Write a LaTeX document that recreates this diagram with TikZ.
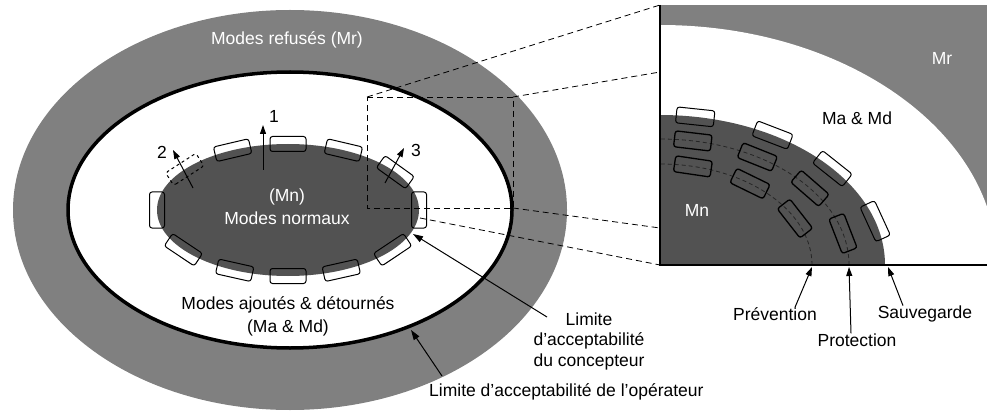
\documentclass[tikz,border=0pt]{standalone}
\usepackage{fontspec}
\setmainfont{Liberation Sans}
\usetikzlibrary{arrows.meta,calc}
\begin{document}
\begin{tikzpicture}[x=1pt,y=1pt,
  lab/.style={font=\fontsize{17.5}{20}\selectfont, inner sep=0pt, align=center},
  wlab/.style={lab, text=white},
  modebox/.style={draw=black, line width=1pt, rounded corners=2.5pt, minimum width=36pt, minimum height=15pt, inner sep=0pt},
  darkbox/.style={modebox, line width=1.3pt},
  proj/.style={line width=0.8pt, dash pattern=on 6pt off 4pt},
  arr/.style={line width=1pt, -{Triangle[length=9pt,width=6pt]}},
  ringfill/.style={fill=black!50},
  mnfill/.style={fill=black!68},
]
\useasboundingbox (0,0) rectangle (987,-414);
% ---------------- main picture ----------------
\coordinate (ctr) at (290,-210);
\coordinate (mn) at (288,-210);
\fill[ringfill] (ctr) ellipse[x radius=277, y radius=200];
\filldraw[fill=white, draw=black, line width=3.5pt] (ctr) ellipse[x radius=222, y radius=138];
\fill[mnfill] (mn) ellipse[x radius=131, y radius=66];
% mode boxes around Mn
\foreach \t [count=\i] in {90,65,115,35,180,0,217,246,270,294,323}
  \node[modebox, rotate={atan2(66*cos(\t),-131*sin(\t))}] (b\i) at ($(mn)+(\t:131 and 66)$) {};
\node[modebox, dashed, rotate={atan2(66*cos(142),-131*sin(142))}] (b12) at ($(mn)+(142:131 and 66)$) {};
% arrows 1 2 3
\coordinate (a1s) at (263,-170); \coordinate (a1e) at (263,-125);
\coordinate (a2s) at (193,-188); \coordinate (a2e) at (173,-150);
\coordinate (a3s) at (385,-183); \coordinate (a3e) at (404,-148);
\draw[arr] (a1s) -- (a1e);
\draw[arr] (a2s) -- (a2e);
\draw[arr] (a3s) -- (a3e);
\node[lab] (n1) at (274,-116) {1};
\node[lab] (n2) at (162,-152) {2};
\node[lab] (n3) at (416,-150) {3};
% labels
\node[wlab] (mr) at (287,-40) {Modes refusés (Mr)};
\node[wlab] (mn1) at (287,-197) {(Mn)};
\node[wlab] (mn2) at (287,-218) {Modes normaux};
\node[lab] (ma1) at (288,-305) {Modes ajoutés \& détournés};
\node[lab] (ma2) at (288,-328) {(Ma \& Md)};
\node[lab, anchor=west] (lop) at (429,-392) {Limite d’acceptabilité de l’opérateur};
\node[lab, font=\fontsize{17.5}{20.5}\selectfont] (lco) at (589,-341) {Limite\\d’acceptabilité\\du concepteur};
\coordinate (lcot) at (547,-317); \coordinate (lcoh) at (413,-234);
\coordinate (lopt) at (442,-376); \coordinate (loph) at (411,-330);
\draw[arr, -{Triangle[length=10pt,width=6.5pt]}] (lcot) -- (lcoh);
\draw[arr, -{Triangle[length=10pt,width=6.5pt]}] (lopt) -- (loph);
% ---------------- projection lines ----------------
\coordinate (r1) at (367,-97); \coordinate (r2) at (513,-97);
\coordinate (r3) at (513,-208); \coordinate (r4) at (367,-208);
\coordinate (s4) at (420,-218);
\coordinate (p1) at (660,-5); \coordinate (p2) at (660,-72);
\coordinate (p3) at (660,-228); \coordinate (p4) at (660,-265);
\draw[proj] (r1) -- (r2) -- (r3) -- (r4) -- cycle;
\draw[proj] (r1) -- (p1);
\draw[proj] (r2) -- (p2);
\draw[proj] (r3) -- (p3);
\draw[proj] (s4) -- (p4);
% ---------------- zoom panel ----------------
\coordinate (pc) at (660,-265);
\begin{scope}
  \clip (660,-5) rectangle (987,-265);
  \fill[ringfill] (660,-5) rectangle (987,-265);
  \fill[white] (pc) ellipse[x radius=337, y radius=240];
  \fill[mnfill] (pc) ellipse[x radius=225, y radius=150];
  \draw[black!85, line width=0.8pt, dash pattern=on 4pt off 3pt] (pc) ellipse[x radius=189, y radius=126];
  \draw[black!85, line width=0.8pt, dash pattern=on 4pt off 3pt] (pc) ellipse[x radius=152, y radius=101];
\end{scope}
\foreach \t [count=\i] in {81,60,40,17}
  \node[modebox, minimum height=16pt, minimum width=38pt, rotate={atan2(150*cos(\t),-225*sin(\t))}] (sa\i) at ($(pc)+(\t:225 and 150)$) {};
\foreach \t [count=\i] in {80,59,37.5,14.5}
  \node[darkbox, minimum height=16pt, minimum width=37pt, rotate={atan2(126*cos(\t),-189*sin(\t))}] (pt\i) at ($(pc)+(\t:189 and 126)$) {};
\foreach \t [count=\i] in {77.5,53.7,27.4}
  \node[darkbox, minimum height=16pt, minimum width=37pt, rotate={atan2(101*cos(\t),-152*sin(\t))}] (pv\i) at ($(pc)+(\t:152 and 101)$) {};
\coordinate (pend) at (987,-265);
\draw[line width=1.3pt] (p1) -- (p4) -- (pend);
\node[lab] (pma) at (857,-118) {Ma \& Md};
\node[wlab] (pmr) at (942,-58) {Mr};
\node[wlab] (pmn) at (697,-210) {Mn};
\node[lab] (prev) at (775,-314) {Prévention};
\node[lab] (prot) at (857,-340) {Protection};
\node[lab] (sauv) at (925,-314) {Sauvegarde};
\coordinate (prevh) at (812,-267); \coordinate (proth) at (849,-267); \coordinate (sauvh) at (888,-267);
\draw[arr] ($(prev.north)+(20,0)$) -- (prevh);
\draw[arr] ($(prot.north)+(-6,0)$) -- (proth);
\draw[arr] ($(sauv.north)+(-22,0)$) -- (sauvh);
\end{tikzpicture}
\end{document}
